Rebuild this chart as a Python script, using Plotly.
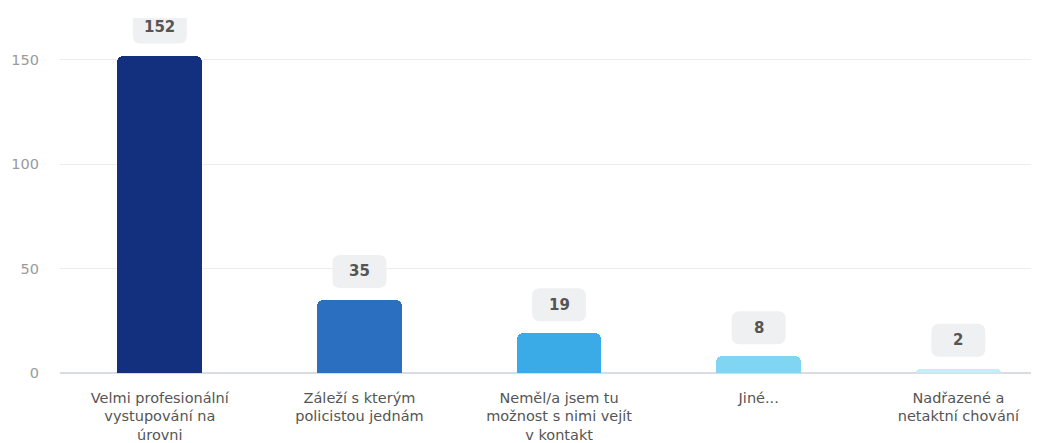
import plotly.graph_objects as go

categories = [
    "Velmi profesionální<br>vystupování na<br>úrovni",
    "Záleží s kterým<br>policistou jednám",
    "Neměl/a jsem tu<br>možnost s nimi vejít<br>v kontakt",
    "Jiné...",
    "Nadřazené a<br>netaktní chování",
]
values = [152, 35, 19, 8, 2]
colors = ["#13307e", "#2b6fc1", "#3aabe6", "#80d5f2", "#c6edf8"]
y_ticks = [0, 50, 100, 150]

FONT = "DejaVu Sans, Verdana, sans-serif"

fig = go.Figure()
fig.add_trace(go.Bar(
    x=list(range(len(categories))),
    y=values,
    marker=dict(color=colors, cornerradius=6, line=dict(width=0)),
    width=0.424,
    hoverinfo="skip",
))

# value labels in rounded boxes above bars
box_w, box_h, r = 54, 33, 8
for i, v in enumerate(values):
    x0, x1 = -box_w / 2, box_w / 2
    y0, y1 = 12, 12 + box_h
    path = (
        f"M {x0 + r},{y0} L {x1 - r},{y0} Q {x1},{y0} {x1},{y0 + r} "
        f"L {x1},{y1 - r} Q {x1},{y1} {x1 - r},{y1} L {x0 + r},{y1} "
        f"Q {x0},{y1} {x0},{y1 - r} L {x0},{y0 + r} Q {x0},{y0} {x0 + r},{y0} Z"
    )
    fig.add_shape(
        type="path", path=path, xref="x", yref="y",
        xsizemode="pixel", ysizemode="pixel", xanchor=i, yanchor=v,
        fillcolor="#eff0f2", line=dict(width=0), layer="above",
    )
    fig.add_annotation(
        x=i, y=v, text=f"<b>{v}</b>", showarrow=False,
        yshift=12 + box_h / 2, font=dict(family=FONT, size=15, color="#555555"),
    )

# page body has an 8px default margin; compensate so the plot lands where the reference is
fig.update_layout(
    width=1031, height=435,
    margin=dict(l=52, r=0, t=10, b=70),
    paper_bgcolor="white", plot_bgcolor="white",
    showlegend=False,
    font=dict(family=FONT),
    bargap=0,
)
fig.update_xaxes(
    tickmode="array", tickvals=list(range(len(categories))), ticktext=categories,
    range=[-0.5, 4.404], showgrid=False, zeroline=False, showline=False,
    tickfont=dict(family=FONT, size=14.5, color="#555555"), ticks="",
    ticklabelstandoff=14, automargin=False,
)
fig.update_yaxes(
    range=[0, 170], tickvals=y_ticks, showgrid=True, gridcolor="#ececec",
    gridwidth=1, zeroline=True, zerolinecolor="#d9dde3", zerolinewidth=1.5,
    tickfont=dict(family=FONT, size=14.5, color="#9a9a9a"), ticks="",
    ticklabelstandoff=20, automargin=False,
)

fig.write_html("out.html")
